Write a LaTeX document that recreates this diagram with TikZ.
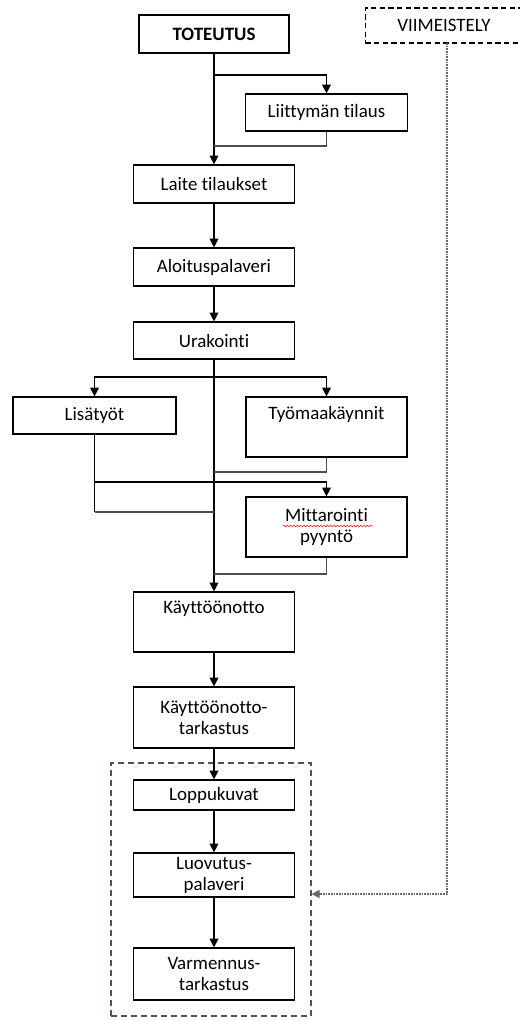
\documentclass[tikz,border=0pt]{standalone}
\usepackage{fontspec}
\setmainfont{Carlito}[Ligatures=NoCommon]
\usetikzlibrary{arrows.meta,decorations.pathmorphing}
\definecolor{grpblue}{HTML}{44546A}
\begin{document}
\begin{tikzpicture}[x=0.75pt,y=-0.75pt,
  box/.style={draw, line width=0.9pt, minimum width=120.75pt, inner sep=0pt, align=center,
    font=\fontsize{14.2}{15.75}\selectfont},
  txt/.style={inner sep=0pt, align=center, font=\fontsize{14.2}{15.75}\selectfont},
  conn/.style={line width=0.95pt, black},
  ret/.style={line width=0.95pt, black!70},
  arr/.style={conn, -{Triangle[length=6.5pt,width=6.5pt]}},
  grpbox/.style={draw=grpblue, line width=1pt, dash pattern=on 4.5pt off 3pt},
  vbox/.style={draw, line width=0.8pt, dash pattern=on 4pt off 2.5pt, font=\fontsize{14.2}{15.75}\selectfont, inner sep=0pt},
  dotarr/.style={line width=1.2pt, black!60, dash pattern=on 1.2pt off 0.8pt, -{Triangle[length=6pt,width=6pt]}}
]
\useasboundingbox (0,0) rectangle (519,1021);

% nodes
\node[box, line width=1.2pt, minimum width=112.5pt, minimum height=28.5pt, font=\fontsize{14.2}{15.75}\selectfont\bfseries] (tot) at (214,34) {TOTEUTUS};
\node[vbox, minimum width=121pt, minimum height=26.25pt] (vii) at (446,25.5) {\hspace*{-3pt}VIIMEISTELY};
\node[box, minimum width=121.5pt, minimum height=27.75pt] (lii) at (326.5,112.5) {Liittymän tilaus};
\node[box, minimum height=28.5pt] (laite) at (214,184) {Laite tilaukset};
\node[box, minimum height=28.5pt] (alo) at (214,267) {Aloituspalaveri};
\node[box, minimum height=27.75pt] (ura) at (214,340.5) {Urakointi};
\node[box, minimum width=122.25pt, minimum height=27.75pt] (lis) at (94.5,415.5) {Lisätyöt};
\node[box, minimum height=45pt] (tyo) at (326.5,427) {};
\node[txt] (tyot) at (326.5,414) {Työmaakäynnit};
\node[box, minimum height=45pt] (mit) at (326.5,527) {Mittarointi\\pyyntö};
\node[box, minimum height=45pt] (kay) at (214,622) {};
\node[txt] (kayt) at (214,609) {Käyttöönotto};
\node[box, minimum height=45.75pt] (kt) at (214,717.5) {Käyttöönotto-\\tarkastus};
\node[box, minimum height=22.5pt] (lop) at (214,795) {Loppukuvat};
\node[box, minimum height=33pt] (luo) at (214,875) {Luovutus-\\palaveri};
\node[box, minimum height=39pt] (var) at (214,974) {Varmennus-\\tarkastus};
\node[grpbox, minimum width=150pt, minimum height=189.75pt, inner sep=0pt] (grp) at (211,889.5) {};

% spell-check squiggle under "Mittarointi"
\coordinate (sq1) at (283,526);
\coordinate (sq2) at (373,526);
\draw[red!80, line width=0.5pt, decorate, decoration={snake, amplitude=0.6pt, segment length=2.5pt}] (sq1) -- (sq2);

% junction coordinates
\coordinate (j1) at (214,75);
\coordinate (j2) at (214,146);
\coordinate (j3) at (214,377);
\coordinate (j4) at (214,472);
\coordinate (l2) at (94.5,482);
\coordinate (l1) at (94.5,512);
\coordinate (j6) at (214,512);
\coordinate (j5) at (214,574);
\coordinate (d0) at (447,43);
\coordinate (d1) at (447,894);

% connectors
\draw[conn] (tot.south) -- (j1);
\draw[arr] (j1) -| (lii.north);
\draw[arr] (j1) -- (laite.north);
\draw[ret] (lii.south) |- (j2);
\draw[arr] (laite) -- (alo);
\draw[arr] (alo) -- (ura);
\draw[conn] (ura.south) -- (j3);
\draw[arr] (j3) -| (lis.north);
\draw[arr] (j3) -| (tyo.north);
\draw[arr] (j3) -- (kay.north);
\draw[ret] (tyo.south) |- (j4);
\draw[conn] (lis.south) -- (l1);
\draw[ret] (l1) -- (j6);
\draw[arr] (l2) -| (mit.north);
\draw[ret] (mit.south) |- (j5);
\draw[arr] (kay) -- (kt);
\draw[arr] (kt) -- (lop);
\draw[arr] (lop) -- (luo);
\draw[arr] (luo) -- (var);
\draw[dotarr] (d0) -- (d1) -- (d1 -| grp.east);
\end{tikzpicture}
\end{document}
